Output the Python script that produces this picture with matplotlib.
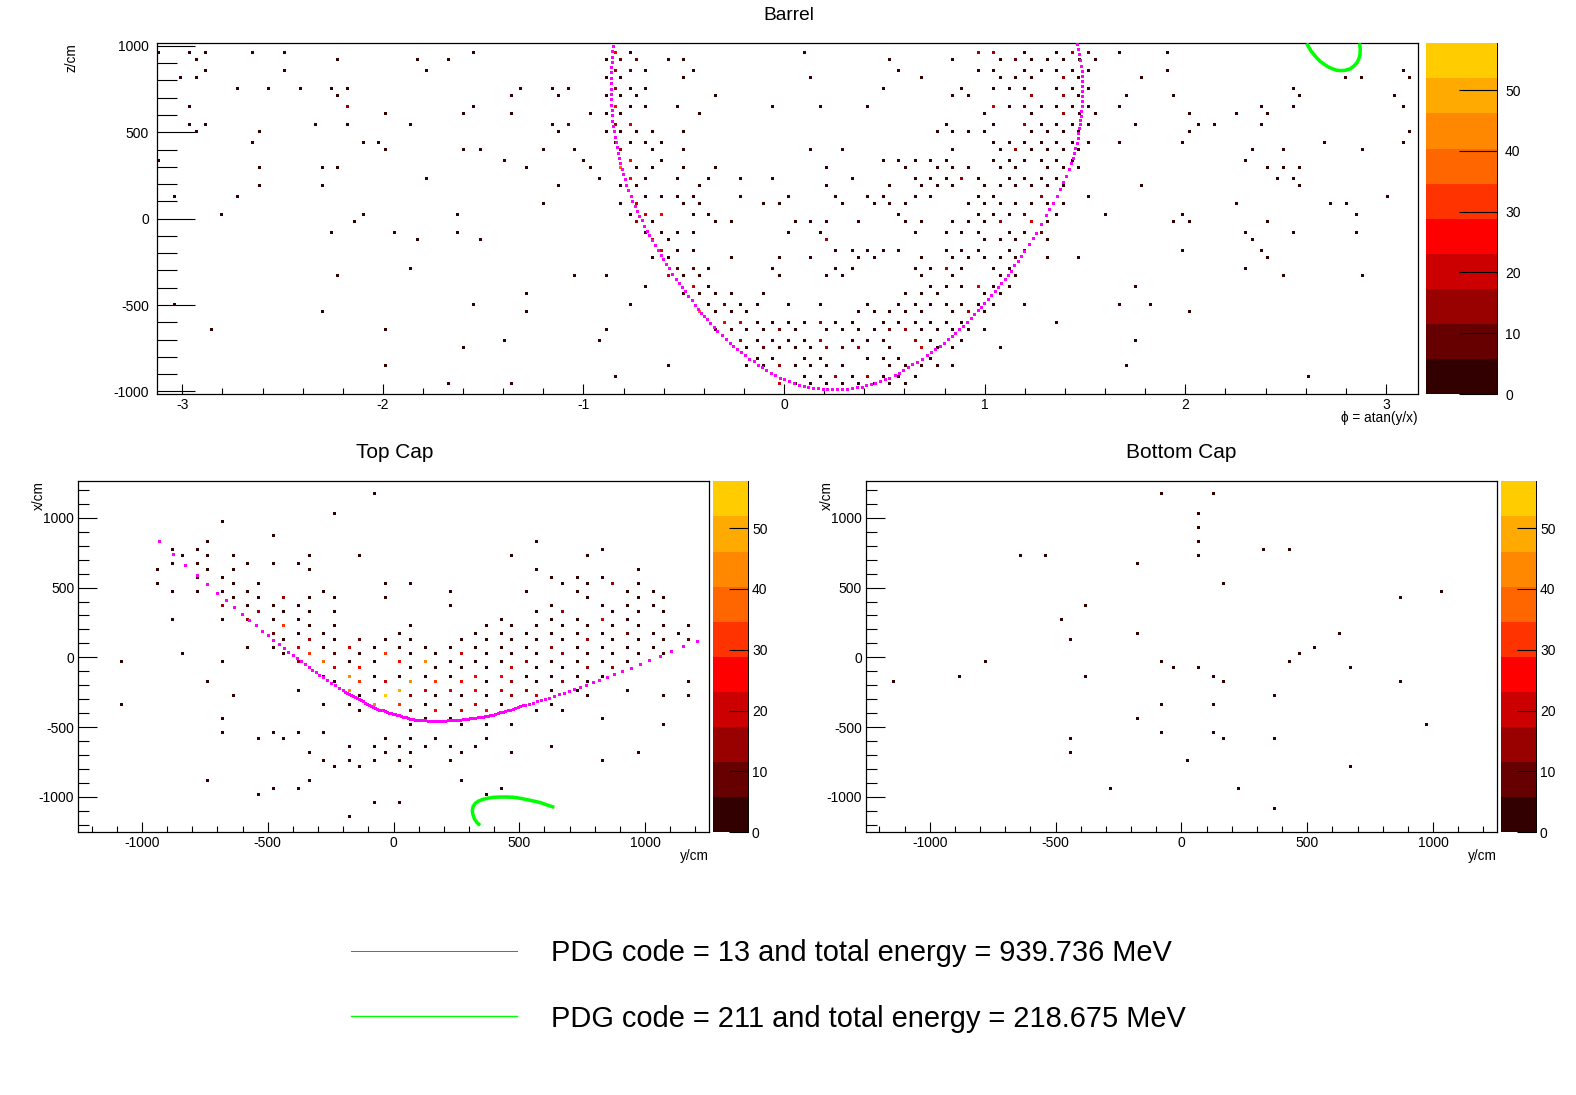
import matplotlib
matplotlib.use("Agg")
import matplotlib.pyplot as plt
import numpy as np
from matplotlib.colors import ListedColormap, BoundaryNorm
from matplotlib.lines import Line2D
from matplotlib.ticker import MultipleLocator

plt.rcParams['font.family'] = ['Liberation Sans', 'DejaVu Sans']
plt.rcParams['axes.unicode_minus'] = False

W, H = 1576, 1095
BAND_COLORS = ['#330000', '#660000', '#990000', '#cc0000', '#ff0000',
               '#ff3300', '#ff6600', '#ff8800', '#ffaa00', '#ffcc00']
Q_MAX = 57.7
COLORBAR_TICKS = [0, 10, 20, 30, 40, 50]
BASE_Q = 3

# ---------- Barrel hits: one list of phi per z row ----------
barrel_z = [961, 921, 857, 816, 753, 712, 649, 608, 544, 504, 440, 400, 336, 295, 232, 191, 127, 87, 23,
            -17, -81, -122, -185, -226, -290, -330, -394, -434, -498, -539, -602, -643, -707, -747, -811,
            -851, -915, -956]
barrel_phi = [
    [-3.118,-2.965,-2.885,-2.651,-2.492,-1.549,-0.84,-0.765,0.1,0.97,1.045,1.2,1.36,1.44,1.515,1.673,1.912],
    [-2.93,-2.227,-1.828,-1.674,-0.886,-0.815,-0.735,-0.575,-0.5,0.525,0.84,1.08,1.155,1.235,1.315,1.395,1.475,1.55],
    [-2.885,-2.492,-1.784,-0.84,-0.765,-0.69,-0.45,0.57,0.97,1.045,1.2,1.285,1.36,1.44,1.515,1.912,3.086],
    [-3.01,-2.93,-0.886,-0.815,-0.5,0.13,0.685,1.08,1.155,1.235,1.395,1.47,1.783,2.80,2.88,3.116],
    [-2.726,-2.571,-2.412,-2.257,-2.177,-1.315,-1.155,-1.076,-0.84,-0.765,-0.69,0.495,0.885,1.045,1.125,1.2,1.36,1.44,1.515,2.539],
    [-2.227,-1.36,-1.126,-0.886,-0.815,-0.735,-0.34,0.84,0.92,1.235,1.395,1.47,1.708,1.942,2.569,3.041],
    [-2.965,-2.177,-1.549,-0.84,-0.765,-0.69,-0.53,-0.06,0.18,0.415,1.045,1.125,1.2,1.285,1.36,1.44,1.515,1.673,2.38,2.539,3.086],
    [-1.988,-1.599,-1.36,-0.966,-0.886,-0.815,-0.42,1.0,1.235,1.395,1.475,1.55,2.02,2.255,2.41],
    [-2.965,-2.885,-2.337,-2.177,-1.863,-1.155,-1.076,-0.84,-0.765,0.81,1.045,1.2,1.285,1.36,1.44,1.515,1.753,2.066,2.146,2.38],
    [-2.93,-2.616,-1.126,-0.886,-0.815,-0.735,-0.655,-0.5,0.765,0.84,0.92,1.0,1.235,1.315,1.395,1.47,2.02,3.116],
    [-2.651,-2.098,-2.023,-0.84,-0.765,-0.69,-0.61,1.045,1.125,1.2,1.285,1.36,1.44,1.515,1.673,1.987,2.693,3.086],
    [-1.988,-1.599,-1.514,-1.2,-1.046,-0.815,-0.655,-0.5,0.13,0.29,0.84,1.08,1.155,1.235,1.315,1.395,1.47,2.335,2.489,2.882],
    [-3.118,-1.395,-1.001,-0.765,-0.61,0.495,0.57,0.655,0.73,0.81,1.045,1.125,1.2,1.285,1.36,1.44,2.3],
    [-2.616,-2.302,-2.227,-1.285,-0.966,-0.815,-0.735,-0.655,-0.5,-0.34,0.21,0.605,0.765,0.84,0.92,1.08,1.155,1.315,1.395,1.47,2.41,2.489,2.569],
    [-1.784,-0.921,-0.765,-0.69,-0.53,-0.375,-0.215,-0.06,0.34,0.655,0.73,0.81,0.885,0.97,1.125,1.2,1.285,1.36,2.459,2.539],
    [-2.616,-2.302,-1.126,-0.815,-0.735,-0.42,0.21,0.525,0.685,0.765,0.84,1.0,1.08,1.155,1.235,1.315,1.395,1.783,2.569],
    [-3.04,-2.726,-0.69,-0.61,-0.53,-0.45,-0.215,0.02,0.255,0.415,0.495,0.655,0.73,0.97,1.045,1.285,1.515,3.007],
    [-1.2,-0.815,-0.735,-0.5,-0.42,-0.105,-0.025,0.29,0.45,0.525,0.605,0.92,1.0,1.08,1.155,1.235,1.315,1.395,2.255,2.723,2.803],
    [-2.806,-2.098,-1.629,-0.765,-0.69,-0.61,-0.45,-0.375,0.57,0.97,1.045,1.125,1.2,1.36,1.6,1.987,2.852],
    [-2.143,-0.735,-0.655,-0.34,-0.26,0.055,0.13,0.21,0.37,0.605,0.685,0.84,0.92,1.0,1.08,1.235,1.315,1.942,2.02,2.41],
    [-2.257,-1.943,-1.629,-0.69,-0.61,-0.53,-0.45,0.02,0.18,0.655,0.81,0.885,0.97,1.125,1.2,1.285,2.3,2.539,2.852],
    [-1.828,-1.514,-0.655,-0.575,0.21,1.0,1.08,1.155,1.315,2.335],
    [-0.61,-0.53,-0.45,0.255,0.34,0.415,0.495,0.57,0.81,0.885,0.97,1.125,1.2,1.987,2.38],
    [-0.655,-0.575,-0.26,-0.025,0.13,0.37,0.45,0.685,0.84,0.92,1.0,1.08,1.155,1.315,1.47,2.41],
    [-1.863,-0.53,-0.45,-0.375,-0.06,0.255,0.34,0.655,0.73,0.81,0.885,1.045,1.125,2.3],
    [-2.227,-1.046,-0.886,-0.575,-0.5,-0.42,-0.025,0.21,0.29,0.685,0.84,1.08,1.155,2.489,2.882],
    [-0.69,-0.45,-0.375,0.73,0.81,0.885,0.97,1.045,1.125,1.753],
    [-1.285,-0.5,-0.42,-0.34,-0.26,-0.105,0.605,0.685,0.765,1.0,1.08],
    [-3.04,-1.549,-0.765,-0.375,-0.295,-0.215,-0.135,0.02,0.18,0.415,0.57,0.655,0.73,0.81,0.885,0.97,1.045,1.2,1.673,1.828],
    [-2.302,-1.285,-0.42,-0.34,-0.26,-0.185,0.37,0.45,0.525,0.605,0.685,0.84,0.92,1.0,2.02],
    [-0.295,-0.215,-0.135,-0.06,0.02,0.1,0.18,0.255,0.34,0.495,0.57,0.655,0.73,0.81,0.885,1.36],
    [-2.855,-1.988,-0.886,-0.34,-0.26,-0.185,-0.105,-0.025,0.055,0.21,0.29,0.37,0.45,0.525,0.605,0.685,0.765,0.84,0.92,1.0],
    [-1.395,-0.921,-0.215,-0.135,-0.06,0.02,0.1,0.18,0.34,0.415,0.495,0.655,0.73,0.885,1.753],
    [-1.599,-0.185,-0.105,-0.025,0.055,0.13,0.21,0.29,0.37,0.525,0.685,0.765,0.84,1.08],
    [-0.135,-0.06,0.1,0.18,0.415,0.495,0.57,0.73],
    [-1.988,-0.575,-0.185,-0.105,-0.025,0.055,0.13,0.21,0.29,0.525,0.605,0.685,0.765,0.84,1.708],
    [-0.84,0.1,0.18,0.255,0.34,0.415,0.495,0.57,0.655,2.614],
    [-1.674,-1.36,-0.025,0.055,0.13,0.21,0.29,0.37,0.45,0.525,0.605],
]
barrel_hot_phi = [-0.84,-0.84,-0.84,-0.84,-0.84,-0.815,-0.735,-0.765,-2.177,-1.076,-0.815,-0.765,-0.765,-0.815,-0.765,
                  -0.735,-0.69,-0.61,-0.735,-0.655,-0.61,-0.53,-0.45,-0.575,-0.45,-0.42,-0.295,-0.215,-0.295,-0.215,
                  -0.025,-0.025,-0.025,0.21,0.21,0.29,0.37,0.255,0.415,0.525,0.605,0.18,0.18,0.655,0.685,0.97,0.92,
                  1.235,1.08,1.285,1.2,1.285,0.885,1.235,1.395,1.395,1.045,1.2,1.155,0.97,1.045,1.44,1.515,1.395,0.81,
                  -0.105,1.155,1.2]
barrel_hot_z = [961,857,753,649,544,921,921,857,649,544,400,544,336,295,232,
                87,23,23,-17,-122,-185,-290,-290,-330,-394,-539,-602,-602,-498,-707,
                -643,-851,-956,-122,-747,-747,-747,-915,-915,-643,-643,-602,-707,-707,-747,-394,-539,
                -17,-17,-81,23,127,232,712,712,816,649,649,921,961,961,961,961,608,-290,
                -747,400,544]
barrel_hot_q = [24,15,15,24,15,9,9,9,14,9,15,21,25,37,25,
                22,22,25,14,18,22,9,9,22,22,37,25,20,9,14,
                9,14,20,14,14,9,14,15,14,9,14,14,14,14,20,22,14,
                22,14,9,9,14,14,14,14,14,20,9,9,14,14,14,9,14,14,
                9,14,14]

barrel_mu_phi = [-0.855,-0.857,-0.858,-0.86,-0.862,-0.863,-0.863,-0.865,-0.865,-0.863,-0.863,-0.862,-0.86,-0.858,-0.857,
    -0.853,-0.85,-0.845,-0.84,-0.833,-0.828,-0.823,-0.817,-0.808,-0.803,-0.795,-0.787,-0.777,-0.765,-0.757,-0.745,-0.733,
    -0.722,-0.71,-0.697,-0.683,-0.672,-0.658,-0.643,-0.628,-0.615,-0.602,-0.588,-0.575,-0.557,-0.54,-0.525,-0.508,-0.493,
    -0.477,-0.46,-0.443,-0.427,-0.412,-0.398,-0.383,-0.367,-0.35,-0.332,-0.31,-0.288,-0.27,-0.255,-0.235,-0.215,-0.195,
    -0.173,-0.152,-0.128,-0.108,-0.088,-0.067,-0.045,-0.022,0.002,0.025,0.048,0.075,0.098,0.12,0.143,0.167,0.192,0.215,
    0.24,0.262,0.287,0.312,0.337,0.362,0.387,0.408,0.432,0.455,0.478,0.503,0.525,0.552,0.573,0.595,0.62,0.64,0.663,0.688,
    0.712,0.733,0.753,0.775,0.795,0.815,0.837,0.853,0.873,0.892,0.912,0.932,0.948,0.965,0.982,0.998,1.015,1.032,1.05,1.065,
    1.083,1.1,1.115,1.132,1.148,1.165,1.182,1.198,1.22,1.24,1.258,1.282,1.307,1.323,1.342,1.358,1.375,1.392,1.405,1.418,
    1.432,1.445,1.458,1.467,1.473,1.478,1.483,1.487,1.487,1.483,1.48,1.472,1.46,
    1.485,1.487,1.487,1.485,1.477,1.466,1.48,1.476,1.47,1.463,1.452,1.438]
barrel_mu_z = [1000,969,938,907,876,846,815,784,753,722,691,660,629,598,568,
    537,506,475,444,413,382,351,320,290,259,228,197,166,131,104,73,44,
    17,-10,-42,-71,-97,-124,-154,-181,-208,-234,-261,-286,-319,-347,-371,-398,-421,
    -448,-473,-498,-521,-544,-564,-583,-606,-627,-649,-676,-699,-720,-737,-757,-774,-791,
    -811,-826,-846,-861,-876,-892,-907,-921,-931,-940,-950,-961,-969,-973,-979,-983,-986,-986,
    -986,-986,-986,-985,-981,-977,-973,-965,-958,-950,-940,-931,-921,-905,-892,-876,-861,-844,-828,-811,
    -791,-772,-753,-737,-718,-699,-680,-660,-641,-622,-598,-575,-552,-531,-510,-490,-463,-444,-419,-396,
    -371,-351,-328,-301,-270,-245,-216,-187,-149,-114,-81,-33,19,54,93,131,174,212,247,286,
    324,382,440,498,546,595,653,710,768,826,884,952,1010,
    680,739,797,855,918,981,624,570,522,469,411,353]

barrel_pi_phi = [2.605,2.614,2.625,2.638,2.655,2.672,2.692,2.713,2.735,2.755,2.776,2.799,2.821,2.841,2.856,2.866,2.871,2.872,2.869]
barrel_pi_z = [1015,996,973,954,931,911,894,878,867,859,857,859,867,884,903,927,952,981,1015]

# ---------- Top cap hits: one list of y per x row ----------
top_x = [1176,1033,975,875,832,775,732,674,631,574,531,473,430,373,330,273,230,172,129,72,29,-29,-72,-136,-172,
         -237,-273,-337,-380,-438,-481,-538,-581,-638,-681,-739,-782,-882,-940,-983,-1040,-1141]
top_y = [
    [-77],
    [-236],
    [-681],
    [-478],
    [-741,569],
    [-880,-781,831],
    [-840,-741,-638,-335,-137,469,771],
    [-880,-781,-582,-478,-379],
    [-940,-741,-638,-335,569,974],
    [-781,-681,628,732,831],
    [-940,-638,-538,-32,68,672,771,871,974],
    [-880,-781,-681,-582,-280,227,529,732,930,1034],
    [-638,-538,-439,-335,-236,-33,771,974,1074],
    [-681,-582,-478,-379,227,628,831,930,1034],
    [-538,-439,-335,-236,569,672,871,974,1074],
    [-880,-681,-582,-478,-379,429,628,732,831,930],
    [-439,-335,-236,68,370,469,569,672,771,871,974,1074,1173],
    [-478,-379,-280,24,326,429,529,628,732,831,930,1034,1133],
    [-439,-335,-236,-137,-33,68,270,370,469,569,672,771,871,974,1074,1173],
    [-582,-478,-379,-280,-176,-77,24,127,227,326,429,529,628,732,831,930,1034],
    [-840,-439,-335,-236,-137,-33,68,167,270,370,469,569,672,771,871,974,1074],
    [-1083,-681,-379,-280,-176,-77,24,127,227,326,429,529,628,732,831,930],
    [-236,-137,68,167,270,370,469,569,672,771,871],
    [-280,-176,-77,24,127,227,326,429,529,628,732,831],
    [-741,-236,-137,-33,68,167,270,370,469,569,672,771,1173],
    [-379,-176,-77,24,127,227,326,429,529,628,732,930],
    [-638,-137,-33,68,167,270,370,469,569,771,1074,1173],
    [-1083,-280,-176,-77,24,127,227,326,429,628],
    [-137,68,167,270,370,569,672],
    [-681,127,227,831],
    [68,270,370,469,1074],
    [-681,-478,-379,-280],
    [-538,-439,-33,68,167,370],
    [-176,-77,24,127,227,326,628],
    [-335,-33,68,270,469,974],
    [-280,-176,-77,24,227,831],
    [-236,-137,68],
    [-741,-335,270],
    [-478,-379,429],
    [-538,370],
    [-77,24],
    [-176],
]
top_hot_y = [-681,-582,-538,-439,-439,-478,-335,-379,-176,-335,-236,-33,270,672,-379,-280,24,127,529,-236,-137,469,771,871,
             -176,326,429,-137,-33,68,167,270,469,672,-176,24,127,227,326,429,529,-33,68,469,569,-77,24,326,68,167,270,370,
             831,930,628,771,1173,871,672,-137]
top_hot_x = [373,273,330,430,230,172,129,72,72,29,29,29,29,29,-29,-29,-29,-29,-29,-72,-72,-72,-72,-72,
             -136,-136,-136,-172,-172,-172,-172,-172,-172,-172,-237,-237,-237,-237,-237,-237,-237,-273,-273,-273,-273,-337,-337,-337,-380,-380,-380,-380,
             273,172,72,129,129,531,330,129]
top_hot_q = [14,14,14,12,33,9,14,22,22,33,9,33,22,14,14,40,25,42,14,21,24,22,14,14,
             42,24,24,33,22,42,33,25,14,14,42,48,18,22,24,22,14,55,14,14,22,42,33,22,14,25,22,25,
             18,9,14,14,9,14,14,9]

top_mu_y = [-932,-876,-828,-781,-741,-701,-665,-634,-602,-574,-546,-522,-498,-478,-455,-435,-419,-399,-383,-367,-351,-335,
    -323,-307,-296,-280,-264,-248,-232,-216,-200,-184,-168,-152,-137,-121,-105,-89,-73,-57,-41,-25,-9,7,23,38,58,
    66,86,106,126,146,166,186,206,225,245,265,285,305,325,345,365,385,405,424,444,464,484,504,524,537,553,570,585,601,617,
    637,657,676,696,716,740,764,792,816,847,875,907,943,979,1015,1058,1102,1150,1206,
    -192,-176,-160,-144,-129,-113,-97,-81,-65,-49,-33,-17,-1,15,30,48,76,96,116,136,156,176,196,216,235,255,275,295,315,335,355,375,395,414,434,454,474,494,514]
top_mu_x = [832,739,660,588,524,459,409,359,308,265,230,186,158,122,93,65,36,14,-7,-29,-50,-72,
    -93,-108,-129,-143,-165,-186,-201,-222,-237,-258,-273,-287,-301,-316,-337,-351,-366,-375,-380,-394,-402,-409,-416,-426,-435,
    -440,-447,-450,-452,-457,-459,-459,-454,-452,-450,-447,-442,-438,-433,-428,-421,-414,-409,-395,-385,-375,-361,-351,-339,-335,-328,-316,-308,-301,-292,
    -280,-265,-258,-244,-230,-215,-201,-179,-165,-143,-122,-100,-79,-50,-22,7,43,79,115,
    -248,-266,-280,-294,-308,-326,-344,-358,-370,-378,-387,-398,-405,-412,-421,-431,-444,-449,-451,-455,-458,-459,-456,-453,-451,-449,-445,-440,-436,-430,-425,-418,-412,-402,-390,-380,-368,-356,-345]

top_pi_y = [344,332,322,316,313,316,325,338,355,374,398,424,451,477,504,531,557,584,610,639]
top_pi_x = [-1205,-1186,-1160,-1131,-1100,-1071,-1047,-1031,-1019,-1011,-1004,-1002,-1002,-1004,-1011,-1021,-1031,-1042,-1059,-1076]

# ---------- Bottom cap hits ----------
bottom_y = [-77,127,68,68,68,326,429,-638,-538,68,-176,167,1034,871,-379,-478,-176,628,-439,529,469,-780,-77,429,-33,68,672,
            -880,-379,127,-1143,167,871,370,-77,127,-176,974,-77,127,-439,167,370,-439,23,672,-280,227,370]
bottom_x = [1176,1176,1033,932,832,775,775,732,732,732,674,531,473,430,373,273,172,172,129,72,29,-29,-29,-29,-72,-72,-72,
            -136,-136,-136,-172,-172,-172,-273,-337,-337,-438,-481,-538,-538,-581,-581,-581,-681,-739,-782,-940,-940,-1083]

legend_labels = ['PDG code = 13 and total energy = 939.736 MeV',
                 'PDG code = 211 and total energy = 218.675 MeV']
MU_COLOR = '#ff00ff'
PI_COLOR = '#00ff00'

cmap = ListedColormap(BAND_COLORS)
edges = np.linspace(0, Q_MAX, len(BAND_COLORS) + 1)
norm = BoundaryNorm(edges, cmap.N)

fig = plt.figure(figsize=(W / 100, H / 100), dpi=100, facecolor='white')


def box(l, t, r, b):
    return [l / W, 1 - b / H, (r - l) / W, (b - t) / H]


def px(n):
    return n * 72 / 100


def style_axes(ax, xlim, ylim, xmaj, xmin, ymaj, ymin, ylen_maj, ylen_min, ypad):
    ax.set_xlim(*xlim)
    ax.set_ylim(*ylim)
    ax.xaxis.set_major_locator(MultipleLocator(xmaj))
    ax.xaxis.set_minor_locator(MultipleLocator(xmin))
    ax.yaxis.set_major_locator(MultipleLocator(ymaj))
    ax.yaxis.set_minor_locator(MultipleLocator(ymin))
    ax.tick_params(axis='x', which='major', direction='in', length=px(10.5), width=0.8, labelsize=10, pad=px(4))
    ax.tick_params(axis='x', which='minor', direction='in', length=px(6), width=0.8)
    ax.tick_params(axis='y', which='major', direction='in', length=px(ylen_maj), width=0.8, labelsize=10, pad=px(ypad))
    ax.tick_params(axis='y', which='minor', direction='in', length=px(ylen_min), width=0.8)
    for s in ax.spines.values():
        s.set_linewidth(0.9)


def color_strip(rect, tick_len, pad):
    cax = fig.add_axes(rect)
    cax.pcolormesh([0, 1], edges, np.arange(len(BAND_COLORS)).reshape(-1, 1), cmap=cmap,
                   vmin=-0.5, vmax=len(BAND_COLORS) - 0.5, rasterized=True)
    cax.set_xticks([])
    cax.set_ylim(0, Q_MAX)
    cax.yaxis.tick_right()
    cax.set_yticks(COLORBAR_TICKS)
    cax.tick_params(axis='y', direction='in', length=px(tick_len), width=0.8, labelsize=10, pad=px(pad))
    for name in ('left', 'top', 'bottom'):
        cax.spines[name].set_visible(False)
    cax.spines['right'].set_linewidth(0.7)
    return cax


def hits(ax, xs, ys, qs):
    c = ax.scatter(xs, ys, c=qs, cmap=cmap, norm=norm, s=px(3.0) ** 2, marker='s', linewidths=0, zorder=2)
    c.set_antialiased(False)


def track(ax, xs, ys, color):
    c = ax.scatter(xs, ys, c=color, s=px(3.0) ** 2, marker='s', linewidths=0, zorder=3)
    c.set_antialiased(False)


def flatten(row_values, row_lists):
    xs, ys = [], []
    for v, lst in zip(row_values, row_lists):
        xs.extend(lst)
        ys.extend([v] * len(lst))
    return xs, ys


# ---------- Barrel ----------
ax_b = fig.add_axes(box(157, 43.3, 1418, 394))
style_axes(ax_b, (-3.126, 3.16), (-1015, 1015), 1, 0.2, 500, 100, 38, 20, 8)
bx, by = flatten(barrel_z, barrel_phi)
hits(ax_b, bx, by, [BASE_Q] * len(bx))
hits(ax_b, barrel_hot_phi, barrel_hot_z, barrel_hot_q)
track(ax_b, barrel_mu_phi, barrel_mu_z, MU_COLOR)
ax_b.plot(barrel_pi_phi, barrel_pi_z, color=PI_COLOR, lw=px(3.5), zorder=3, solid_capstyle='butt')
fig.text(788.5 / W, 1 - 16 / H, 'Barrel', ha='center', va='center', fontsize=13.8)
ax_b.set_xlabel('ϕ = atan(y/x)', loc='right', fontsize=9.8, labelpad=px(-1))
ax_b.set_ylabel('z/cm', loc='top', fontsize=9.8)
ax_b.yaxis.set_label_coords((79 - 157) / 1261, 1.0)
color_strip(box(1426, 43.3, 1497, 394), 38, 8)

# ---------- Top cap ----------
CAP_LIMX = (-1253, 1254)
CAP_LIMY = (-1255, 1262)
ax_t = fig.add_axes(box(78.3, 481.3, 709, 832.3))
style_axes(ax_t, CAP_LIMX, CAP_LIMY, 500, 100, 500, 100, 19, 10.5, 4)
tx, ty = flatten(top_x, top_y)
hits(ax_t, tx, ty, [BASE_Q] * len(tx))
hits(ax_t, top_hot_y, top_hot_x, top_hot_q)
track(ax_t, top_mu_y, top_mu_x, MU_COLOR)
ax_t.plot(top_pi_y, top_pi_x, color=PI_COLOR, lw=px(3.5), zorder=3, solid_capstyle='butt')
fig.text(394.5 / W, 1 - 453 / H, 'Top Cap', ha='center', va='center', fontsize=15)
ax_t.set_xlabel('y/cm', loc='right', fontsize=9.8, labelpad=px(-1))
ax_t.set_ylabel('x/cm', loc='top', fontsize=9.8)
ax_t.yaxis.set_label_coords((46 - 78.3) / 630.7, 1.0)
color_strip(box(713, 481.3, 748, 832.3), 19, 4)

# ---------- Bottom cap ----------
ax_c = fig.add_axes(box(866, 481.3, 1497, 832.3))
style_axes(ax_c, CAP_LIMX, CAP_LIMY, 500, 100, 500, 100, 19, 10.5, 4)
hits(ax_c, bottom_y, bottom_x, [BASE_Q] * len(bottom_x))
fig.text(1181 / W, 1 - 453 / H, 'Bottom Cap', ha='center', va='center', fontsize=15)
ax_c.set_xlabel('y/cm', loc='right', fontsize=9.8, labelpad=px(-1))
ax_c.set_ylabel('x/cm', loc='top', fontsize=9.8)
ax_c.yaxis.set_label_coords((834 - 866) / 631, 1.0)
color_strip(box(1501, 481.3, 1536, 832.3), 19, 4)

# ---------- Legend ----------
handles = [Line2D([], [], color=MU_COLOR, lw=0.7), Line2D([], [], color=PI_COLOR, lw=1.0)]
fig.legend(handles, legend_labels, loc='center left', bbox_to_anchor=(350.5 / W, 1 - 986 / H),
           frameon=False, fontsize=20.9, handlelength=5.72, handletextpad=1.17, labelspacing=1.28,
           borderpad=0, borderaxespad=0)

fig.savefig('out.png', dpi=100, facecolor='white')
